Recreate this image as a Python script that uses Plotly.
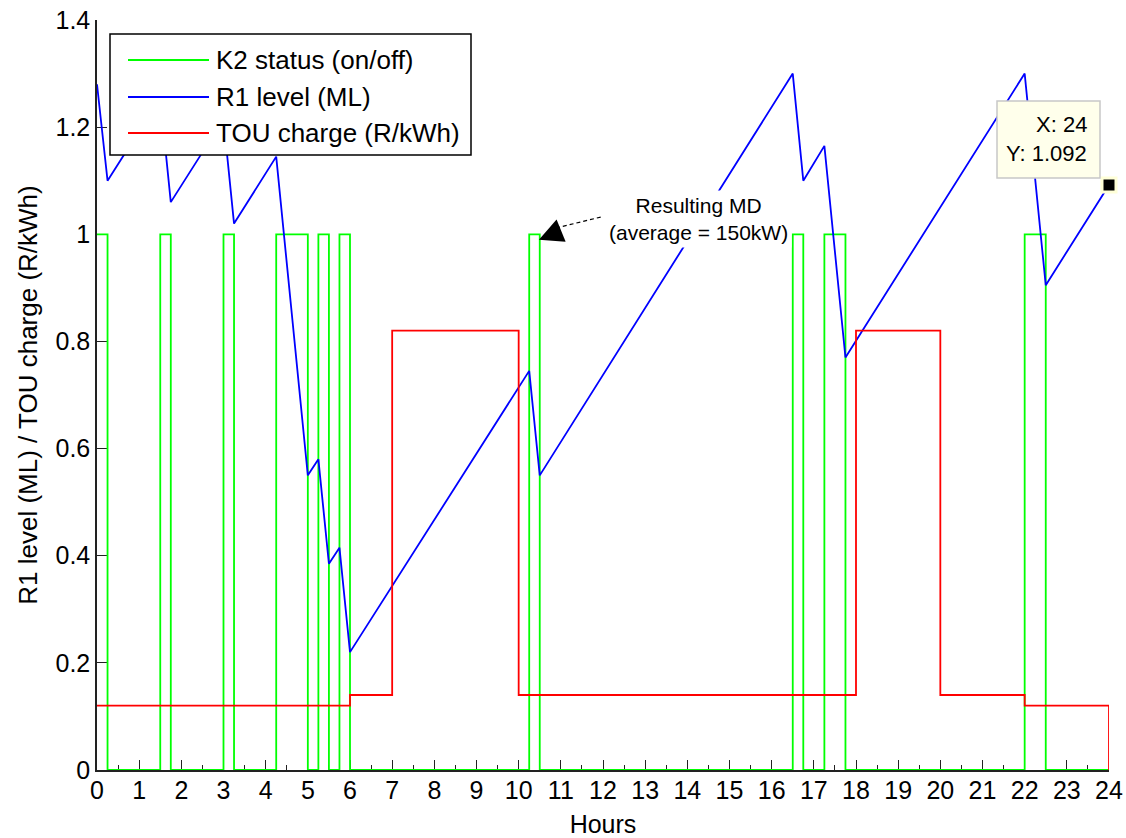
import plotly.graph_objects as go

# Reservoir R1 level over a day (ML)
r1_hours = [0, 0.25, 1.5, 1.75, 3.0, 3.25, 4.25, 5.0, 5.25, 5.5, 5.75, 6.0,
            10.25, 10.5, 16.5, 16.75, 17.25, 17.75, 22.0, 22.5, 24]
r1_level = [1.28, 1.10, 1.255, 1.06, 1.215, 1.02, 1.145, 0.55, 0.58, 0.385, 0.415, 0.22,
            0.745, 0.55, 1.30, 1.10, 1.165, 0.77, 1.30, 0.905, 1.092]

# Pump K2 switching instants and state after each switch
k2_hours = [0, 0.25, 1.5, 1.75, 3.0, 3.25, 4.25, 5.0, 5.25, 5.5, 5.75, 6.0,
            10.25, 10.5, 16.5, 16.75, 17.25, 17.75, 22.0, 22.5, 24]
k2_status = [1, 0, 1, 0, 1, 0, 1, 0, 1, 0, 1, 0,
             1, 0, 1, 0, 1, 0, 1, 0, 0]

# Time-of-use tariff (R/kWh), value held from each start hour
tou_hours = [0, 6, 7, 10, 18, 20, 22, 24]
tou_charge = [0.12, 0.14, 0.82, 0.14, 0.82, 0.14, 0.12, 0]

hour_ticks = list(range(0, 25))
level_ticks = [0, 0.2, 0.4, 0.6, 0.8, 1.0, 1.2, 1.4]
level_labels = ["0", "0.2", "0.4", "0.6", "0.8", "1", "1.2", "1.4"]

FONT = "Liberation Sans, Arial, sans-serif"
W_FIG, H_FIG = 1126, 838
M_L, M_R, M_T, M_B = 97, 17, 20, 68
PW = W_FIG - M_L - M_R
PH = H_FIG - M_T - M_B


def px_x(px):
    return (px - M_L) / PW


def px_y(py):
    return (H_FIG - M_B - py) / PH


GREEN = "#00FF00"
BLUE = "#0000FF"
RED = "#FF0000"

fig = go.Figure()
fig.add_trace(go.Scatter(x=k2_hours, y=k2_status, mode="lines", line_shape="hv",
                         line=dict(color=GREEN, width=1.8), name="K2 status (on/off)"))
fig.add_trace(go.Scatter(x=r1_hours, y=r1_level, mode="lines",
                         line=dict(color=BLUE, width=1.8), name="R1 level (ML)"))
fig.add_trace(go.Scatter(x=tou_hours, y=tou_charge, mode="lines", line_shape="hv",
                         line=dict(color=RED, width=1.8), name="TOU charge (R/kWh)"))

# data cursor on the last level sample
tip_x, tip_y = r1_hours[-1], r1_level[-1]
fig.add_trace(go.Scatter(x=[tip_x], y=[tip_y], mode="markers", cliponaxis=False,
                         marker=dict(symbol="square", size=14, color="black",
                                     line=dict(color="#FFFFD8", width=3)),
                         showlegend=False, hoverinfo="skip"))

fig.update_layout(
    width=W_FIG, height=H_FIG,
    margin=dict(l=M_L, r=M_R, t=M_T, b=M_B, autoexpand=False),
    paper_bgcolor="white", plot_bgcolor="white",
    showlegend=False,
    font=dict(family=FONT, size=26, color="black"),
)

fig.update_xaxes(
    range=[0, 24], tickmode="array", tickvals=hour_ticks,
    ticktext=[str(h) for h in hour_ticks], automargin=False,
    ticks="inside", ticklen=10, tickwidth=1.2, tickcolor="#222",
    minor=dict(tickmode="linear", tick0=0, dtick=0.5, ticks="inside", ticklen=5,
               tickwidth=1.2, tickcolor="#222", showgrid=False),
    showline=True, linecolor="#222", linewidth=1.5, mirror=False,
    showgrid=False, zeroline=False, layer="below traces",
    tickfont=dict(family=FONT, size=25, color="black"), ticklabelstandoff=-3,
    title=dict(text="Hours", font=dict(family=FONT, size=25, color="black"), standoff=14),
)
fig.update_yaxes(
    range=[0, 1.4], tickmode="array", tickvals=level_ticks, ticktext=level_labels,
    automargin=False,
    ticks="inside", ticklen=10, tickwidth=1.2, tickcolor="#222",
    showline=True, linecolor="#222", linewidth=1.5, mirror=False,
    showgrid=False, zeroline=False, layer="below traces",
    tickfont=dict(family=FONT, size=25, color="black"),
    title=dict(text="R1 level (ML) / TOU charge (R/kWh)",
               font=dict(family=FONT, size=26, color="black"), standoff=10),
)

shapes = []
annotations = []

# legend box
shapes.append(dict(type="rect", xref="paper", yref="paper",
                   x0=px_x(110), x1=px_x(471), y0=px_y(155), y1=px_y(34),
                   line=dict(color="black", width=1.5), fillcolor="white", layer="above"))
legend_rows = [("K2 status (on/off)", GREEN, 60), ("R1 level (ML)", BLUE, 97),
               ("TOU charge (R/kWh)", RED, 133)]
for label, color, row_y in legend_rows:
    shapes.append(dict(type="line", xref="paper", yref="paper",
                       x0=px_x(128), x1=px_x(209), y0=px_y(row_y), y1=px_y(row_y),
                       line=dict(color=color, width=1.8), layer="above"))
    annotations.append(dict(xref="paper", yref="paper", x=px_x(214), y=px_y(row_y),
                            xanchor="left", yanchor="middle", showarrow=False,
                            text=label, font=dict(family=FONT, size=26, color="black")))

# data tip box
shapes.append(dict(type="rect", xref="paper", yref="paper",
                   x0=px_x(997), x1=px_x(1100), y0=px_y(178), y1=px_y(101),
                   line=dict(color="#C8C8C8", width=1.5), fillcolor="#FFFFEB", layer="above"))
annotations.append(dict(xref="paper", yref="paper", x=px_x(1089), y=px_y(124),
                        xanchor="right", yanchor="middle", showarrow=False,
                        text=f"X: {tip_x:g}", font=dict(family=FONT, size=22, color="black")))
annotations.append(dict(xref="paper", yref="paper", x=px_x(1089), y=px_y(153),
                        xanchor="right", yanchor="middle", showarrow=False,
                        text=f"Y: {tip_y:.3f}", font=dict(family=FONT, size=22, color="black")))

# maximum-demand callout
annotations.append(dict(xref="paper", yref="paper", x=px_x(698), y=px_y(219),
                        xanchor="center", yanchor="middle", showarrow=False,
                        text="Resulting MD<br>(average = 150kW)", align="center",
                        bgcolor="white", borderpad=3,
                        font=dict(family=FONT, size=21, color="black")))
shapes.append(dict(type="line", xref="paper", yref="paper",
                   x0=px_x(556), y0=px_y(228), x1=px_x(601), y1=px_y(217),
                   line=dict(color="black", width=1.2, dash="4px,3px"), layer="above"))
annotations.append(dict(x=10.48, y=0.99, xref="x", yref="y", text="",
                        showarrow=True, arrowhead=2, arrowsize=3.2, arrowwidth=1.5,
                        arrowcolor="black", ax=22, ay=-9))

fig.update_layout(shapes=shapes, annotations=annotations)

fig.write_html("out.html")
